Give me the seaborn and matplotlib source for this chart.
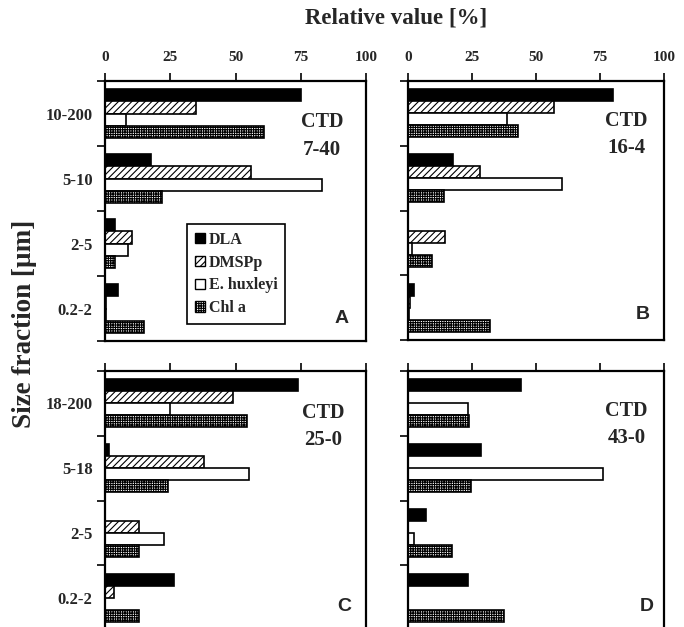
# plot.py
# four-panel horizontal bar chart: relative values per size fraction at four CTD stations

import numpy as np
import pandas as pd
from matplotlib import pyplot as plt
from matplotlib.patches import Patch
import seaborn as sns

sns.set_style("ticks")
plt.rcParams["font.family"] = ["Liberation Serif", "DejaVu Serif"]
plt.rcParams["font.weight"] = "bold"
plt.rcParams["hatch.linewidth"] = 0.8

# data
series = ["DLA", "DMSPp", "E. huxleyi", "Chl a"]
fractions_top = ["10-200", "5-10", "2-5", "0.2-2"]
fractions_bottom = ["18-200", "5-18", "2-5", "0.2-2"]
x_ticks = [0, 25, 50, 75, 100]

# panel A, CTD 7-40
dla_a = [75, 17.5, 4, 5]
dmsp_a = [35, 56, 10.5, 0.5]
ehux_a = [8, 83, 9, 0.5]
chla_a = [61, 22, 4, 15]

# panel B, CTD 16-4
dla_b = [80, 17.5, 0, 2.5]
dmsp_b = [57, 28, 14.5, 0.8]
ehux_b = [38.5, 60, 1.5, 0.5]
chla_b = [43, 14, 9.5, 32]

# panel C, CTD 25-0
dla_c = [74, 1.5, 0, 26.5]
dmsp_c = [49, 38, 13, 3.5]
ehux_c = [25, 55, 22.5, 0]
chla_c = [54.5, 24, 13, 13]

# panel D, CTD 43-0
dla_d = [44, 28.5, 7, 23.5]
dmsp_d = [0, 0, 0, 0]
ehux_d = [23.5, 76, 2.5, 0]
chla_d = [24, 24.5, 17, 37.5]

facecolors = ["black", "white", "white", "white"]
hatches = [None, "/////", None, "+++++++"]


def make_frame(fractions, *values):
    rows = []
    for name, vals in zip(series, values):
        for frac, v in zip(fractions, vals):
            rows.append({"fraction": frac, "series": name, "value": v})
    return pd.DataFrame(rows)


def draw_panel(ax, df, fractions, station, letter, top_labels, left_labels, ctd_xy, letter_xy):
    sns.barplot(data=df, y="fraction", x="value", hue="series",
                order=fractions, hue_order=series, orient="h",
                palette=facecolors, saturation=1, width=0.74,
                edgecolor="black", linewidth=1.2, legend=False, ax=ax)
    for cont, hatch in zip(ax.containers, hatches):
        for bar in cont:
            if hatch:
                bar.set_hatch(hatch)

    ax.set_xlim(0, 100)
    ax.set_ylim(3.5, -0.5)
    ax.xaxis.set_ticks_position("top")
    ax.set_xticks(x_ticks)
    ax.set_xticklabels([str(t) for t in x_ticks], fontsize=11, fontweight="bold")
    ax.tick_params(axis="x", which="major", direction="out", length=6, width=1.4,
                   pad=6, labeltop=top_labels, labelbottom=False)

    ax.set_yticks([-0.5, 0.5, 1.5, 2.5, 3.5])
    ax.set_yticklabels([])
    ax.set_yticks(range(len(fractions)), minor=True)
    if left_labels:
        ax.set_yticklabels(fractions, minor=True, fontsize=12, fontweight="bold")
    ax.tick_params(axis="y", which="major", direction="out", length=6, width=1.4)
    ax.tick_params(axis="y", which="minor", length=0, pad=9)
    ax.set_xlabel("")
    ax.set_ylabel("")
    for sp in ax.spines.values():
        sp.set_linewidth(1.6)
        sp.set_color("black")

    ax.text(ctd_xy[0], ctd_xy[1], "CTD", transform=ax.transAxes, ha="center",
            va="center", fontsize=14.5, fontweight="bold")
    ax.text(ctd_xy[0], ctd_xy[1] - 0.107, station, transform=ax.transAxes, ha="center",
            va="center", fontsize=15, fontweight="bold")
    ax.text(letter_xy[0], letter_xy[1], letter, transform=ax.transAxes, ha="center",
            va="center", fontsize=14, fontweight="bold", family=["Liberation Sans", "DejaVu Sans"])


fig = plt.figure(figsize=(6.84, 6.27), dpi=100)
ax_a = fig.add_axes([0.1535, 0.4561, 0.3816, 0.4147])
ax_b = fig.add_axes([0.5965, 0.4577, 0.3743, 0.4131])
ax_c = fig.add_axes([0.1535, -0.0048, 0.3816, 0.4131])
ax_d = fig.add_axes([0.5965, -0.0048, 0.3743, 0.4131])

draw_panel(ax_a, make_frame(fractions_top, dla_a, dmsp_a, ehux_a, chla_a), fractions_top,
           "7-40", "A", True, True, (0.831, 0.842), (0.908, 0.085))
draw_panel(ax_b, make_frame(fractions_top, dla_b, dmsp_b, ehux_b, chla_b), fractions_top,
           "16-4", "B", True, False, (0.854, 0.847), (0.918, 0.097))
draw_panel(ax_c, make_frame(fractions_bottom, dla_c, dmsp_c, ehux_c, chla_c), fractions_bottom,
           "25-0", "C", False, True, (0.835, 0.839), (0.916, 0.089))
draw_panel(ax_d, make_frame(fractions_bottom, dla_d, dmsp_d, ehux_d, chla_d), fractions_bottom,
           "43-0", "D", False, False, (0.854, 0.847), (0.934, 0.089))

handles = [Patch(facecolor=fc, edgecolor="black", hatch=h, linewidth=1.0)
           for fc, h in zip(facecolors, hatches)]
leg = ax_a.legend(handles, series, loc="upper left", bbox_to_anchor=(0.314, 0.45),
                  fancybox=False, framealpha=1, edgecolor="black", borderaxespad=0,
                  prop={"size": 11.5, "weight": "bold"}, handlelength=0.6, handleheight=0.6,
                  handletextpad=0.25, labelspacing=0.42, borderpad=0.5)
leg.get_frame().set_linewidth(1.2)

fig.text(396 / 684, 1 - 18 / 627, "Relative value [%]", ha="center", va="center",
         fontsize=16.5, fontweight="bold")
fig.text(25 / 684, 1 - 324 / 627, "Size fraction [µm]", ha="center", va="center",
         rotation=90, fontsize=19.5, fontweight="bold")

fig.savefig("out.png", dpi=100)
